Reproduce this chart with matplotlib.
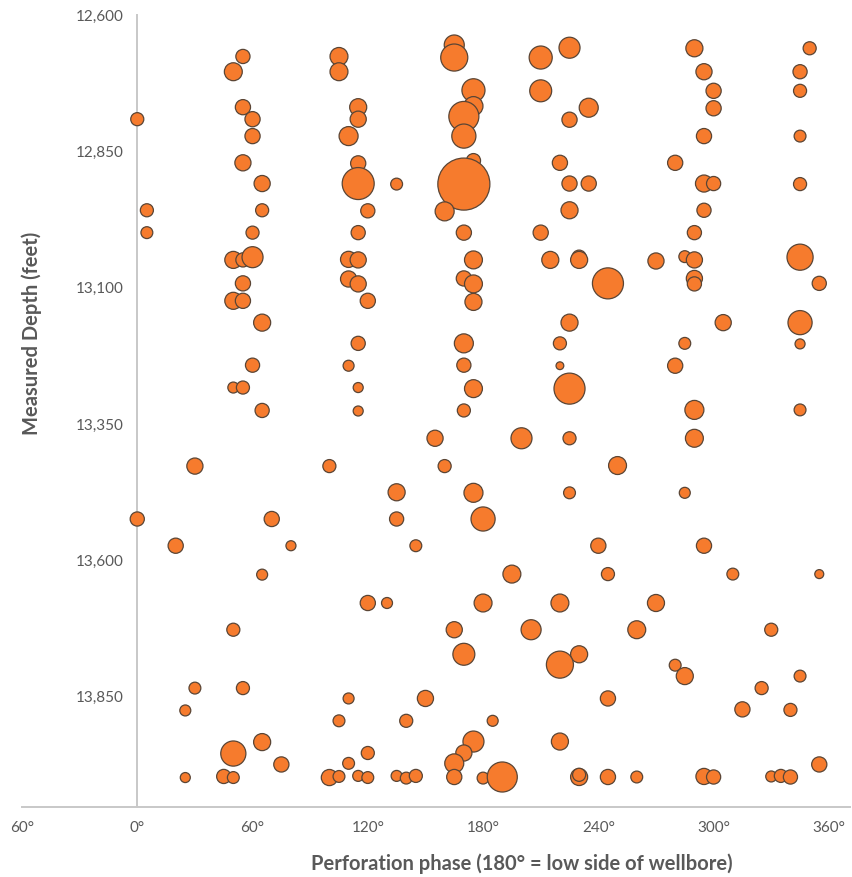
import matplotlib.pyplot as plt

# perforation phase (deg), measured depth (ft), relative bubble value (area)
phase = [
    0, 5, 5, 0, 20, 30, 30, 25, 25,
    55, 50, 55, 60, 60, 55, 65, 65, 60, 50, 55, 60, 55, 50, 55, 65, 60, 50, 55, 65,
    70, 80, 65, 50, 55, 65, 50, 75, 45, 50,
    105, 105, 115, 115, 110, 115, 115, 135, 120, 115, 110, 115, 110, 115, 120, 115, 110, 115, 115, 100,
    135, 135, 145, 155, 160, 120, 130, 110, 150, 105, 140, 120, 110, 100, 105, 115, 120, 135, 140, 145,
    165, 165, 175, 175, 170, 170, 175, 170, 160, 170, 175, 170, 175, 175, 170, 170, 175, 170, 175, 180,
    195, 180, 165, 170, 185, 175, 170, 165, 165, 180, 190,
    210, 225, 210, 235, 225, 220, 225, 235, 225, 210, 215, 230, 230, 245, 225, 220, 220, 225, 200, 225,
    250, 225, 240, 245, 220, 205, 260, 230, 220, 245, 220, 230, 230, 245, 260, 270,
    290, 295, 300, 300, 295, 280, 295, 300, 295, 290, 270, 285, 290, 290, 290, 305, 285, 280, 290, 290,
    285, 295, 310, 280, 285, 295, 300,
    350, 345, 345, 345, 345, 345, 355, 345, 345, 345, 355, 330, 345, 325, 315, 340, 355, 330, 335, 340,
]
depth = [
    12791, 12958, 12999, 13524, 13573, 13427, 13834, 13875, 13998,
    12676, 12704, 12769, 12791, 12822, 12871, 12909, 12958, 12999, 13049, 13049, 13044, 13092, 13124, 13124,
    13164, 13242, 13283, 13283, 13325, 13524, 13573, 13626, 13727, 13834, 13933, 13954, 13974, 13996, 13998,
    12676, 12704, 12769, 12791, 12822, 12872, 12909, 12910, 12959, 12999, 13048, 13049, 13084, 13093, 13124,
    13202, 13243, 13283, 13326, 13427, 13475, 13524, 13573, 13376, 13427, 13678, 13678, 13853, 13853, 13894,
    13894, 13953, 13972, 13998, 13996, 13995, 13998, 13995, 13999, 13995,
    12655, 12678, 12738, 12767, 12786, 12822, 12867, 12910, 12960, 12999, 13049, 13083, 13093, 13126, 13202,
    13242, 13285, 13325, 13476, 13524, 13625, 13678, 13727, 13772, 13894, 13932, 13953, 13972, 13997, 13999,
    13997,
    12678, 12660, 12739, 12770, 12792, 12871, 12909, 12909, 12958, 12999, 13049, 13044, 13049, 13092, 13164,
    13202, 13243, 13285, 13376, 13376, 13426, 13476, 13573, 13625, 13678, 13727, 13727, 13772, 13791, 13853,
    13932, 13997, 13993, 13997, 13997, 13678,
    12661, 12704, 12739, 12771, 12822, 12871, 12909, 12909, 12958, 12999, 13051, 13043, 13049, 13083, 13093,
    13164, 13202, 13243, 13324, 13376, 13476, 13573, 13625, 13792, 13812, 13996, 13997,
    12661, 12704, 12739, 12822, 12910, 13044, 13092, 13164, 13203, 13324, 13625, 13727, 13812, 13834, 13873,
    13874, 13974, 13996, 13995, 13997,
]
bubble = [
    1.7, 1.7, 1.4, 2.0, 2.3, 2.6, 1.4, 1.2, 1.0,
    2.0, 3.2, 2.3, 2.3, 2.3, 2.6, 2.6, 1.7, 1.7, 2.9, 2.0, 4.4, 2.3, 2.9, 2.3, 2.9, 2.0, 1.2, 1.7, 2.0,
    2.3, 1.0, 1.2, 1.7, 1.7, 2.9, 6.3, 2.3, 2.0, 1.4,
    3.2, 3.2, 2.9, 2.6, 3.6, 2.3, 10.2, 1.4, 2.0, 2.0, 2.6, 2.6, 2.6, 2.6, 2.3, 2.0, 1.2, 1.0, 1.0, 1.7,
    2.9, 2.0, 1.4, 2.6, 1.7, 2.3, 1.2, 1.2, 2.6, 1.4, 1.7, 1.7, 1.4, 2.6, 1.4, 1.2, 1.4, 1.2, 1.4, 1.7,
    4.0, 7.3, 5.3, 3.6, 9.0, 5.8, 2.0, 27.0, 3.6, 2.3, 3.2, 2.3, 3.2, 2.9, 3.6, 2.0, 3.2, 1.7, 3.6, 5.8,
    3.2, 3.2, 2.6, 4.8, 1.2, 4.4, 2.6, 3.6, 2.3, 1.4, 9.0,
    5.3, 4.4, 4.8, 3.6, 2.3, 2.3, 2.3, 2.3, 2.9, 2.3, 2.9, 2.0, 2.9, 9.6, 2.9, 1.7, 0.6, 9.6, 4.4, 1.7,
    3.2, 1.4, 2.3, 1.7, 3.2, 4.0, 3.2, 2.9, 7.3, 2.3, 2.9, 2.9, 1.7, 2.3, 1.4, 2.9,
    2.9, 2.6, 2.3, 2.3, 2.3, 2.3, 2.9, 2.0, 2.0, 2.0, 2.6, 1.4, 2.6, 2.6, 2.0, 2.6, 1.4, 2.3, 3.6, 3.2,
    1.2, 2.3, 1.4, 1.4, 2.9, 2.6, 2.0,
    1.7, 2.0, 1.7, 1.4, 1.7, 6.8, 2.0, 5.8, 1.0, 1.4, 0.8, 1.7, 1.4, 1.7, 2.3, 1.7, 2.3, 1.2, 1.7, 2.0,
]
assert len(phase) == len(depth) == len(bubble)

x_ticks = [-60, 0, 60, 120, 180, 240, 300, 360]
x_labels = ["60°", "0°", "60°", "120°", "180°", "240°", "300°", "360°"]
y_ticks = [12600, 12850, 13100, 13350, 13600, 13850]

plt.rcParams['font.family'] = ['Lato', 'DejaVu Sans']
grey = "#595959"
axis_col = "#C8C8C8"

fig = plt.figure(figsize=(8.53, 8.77), dpi=100)
ax = fig.add_axes([22 / 853, 1 - 807 / 877, 828 / 853, 792 / 877])

ax.scatter(phase, depth, s=[b * 52 for b in bubble], color="#F67B2D",
           edgecolors="#5A4535", linewidths=0.9, zorder=3)

ax.set_xlim(-60, 371)
ax.set_ylim(14052, 12600)

ax.spines['top'].set_visible(False)
ax.spines['right'].set_visible(False)
ax.spines['left'].set_position(('data', 0))
ax.spines['left'].set_color(axis_col)
ax.spines['bottom'].set_color(axis_col)
ax.spines['left'].set_linewidth(1.4)
ax.spines['bottom'].set_linewidth(1.4)

ax.set_xticks(x_ticks)
ax.set_xticklabels(x_labels)
ax.set_yticks(y_ticks)
ax.set_yticklabels([f"{v:,}" for v in y_ticks])
ax.tick_params(axis='both', length=0, labelsize=11, colors=grey)
ax.tick_params(axis='y', pad=10)
ax.tick_params(axis='x', pad=10)

fig.text(32 / 853, 1 - 333 / 877, "Measured Depth (feet)", rotation=90,
         ha='center', va='center', fontsize=14.5, fontweight='bold', color=grey)
fig.text(522 / 853, 1 - 864 / 877, "Perforation phase (180° = low side of wellbore)",
         ha='center', va='center', fontsize=14.5, fontweight='bold', color=grey)

fig.savefig("out.png", dpi=100)
